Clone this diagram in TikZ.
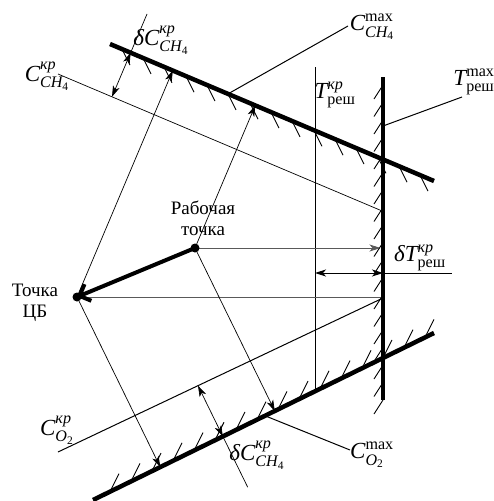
\documentclass[tikz,border=0pt]{standalone}
\usepackage{fontspec}
\usepackage{amsmath}
\setmainfont{Liberation Serif}
\usetikzlibrary{calc,arrows.meta}
\tikzset{
  thickln/.style={line width=4.5pt},
  thinln/.style={line width=0.7pt},
  gthin/.style={line width=0.8pt, draw=black!65},
  leader/.style={line width=1pt},
  hatchln/.style={line width=0.9pt},
  lbl/.style={font=\fontsize{23}{25}\selectfont, inner sep=0pt},
  txt/.style={font=\fontsize{19}{21}\selectfont, align=center, inner sep=0pt},
  arr/.style={-{Stealth[length=11pt,width=7pt,inset=3pt]}},
  darr/.style={{Stealth[length=11pt,width=7pt,inset=3pt]}-{Stealth[length=11pt,width=7pt,inset=3pt]}},
}
\begin{document}
\begin{tikzpicture}[x=1pt,y=-1pt]
\useasboundingbox (0,0) rectangle (494,501);
% main limit lines
\coordinate (A1) at (110,44);   \coordinate (A2) at (434,181);
\coordinate (V1) at (383,77);   \coordinate (V2) at (383,400);
\coordinate (B1) at (93,500);   \coordinate (B2) at (434,333);
% critical lines
\coordinate (K1a) at (58,74);   \coordinate (K1b) at (381,210.5);
\coordinate (K2a) at (58,452);  \coordinate (K2b) at (383,298);
\coordinate (TKa) at (315,67);  \coordinate (TKb) at (315,391.3);
% points
\coordinate (W) at (195,248);
\coordinate (Z) at (77,297);
\coordinate (WV) at (380.5,248);
\coordinate (ZV) at (383,297);
% projections
\coordinate (ZU) at ($(A1)!(Z)!(A2)$);
\coordinate (WU) at ($(A1)!(W)!(A2)$);
\coordinate (ZL) at ($(B1)!(Z)!(B2)$);
\coordinate (WL) at ($(B1)!(W)!(B2)$);
% delta C upper
\coordinate (P0) at ($(K1a)!{(112-58)/323}!(K1b)$);
\coordinate (PU) at ($(A1)!(P0)!(A2)$);
\coordinate (PE) at ($(PU)!-0.88!(P0)$);
% delta C lower
\coordinate (Q0) at ($(K2a)!{(198-58)/325}!(K2b)$);
\coordinate (QL) at ($(B1)!(Q0)!(B2)$);
\coordinate (QE) at ($(QL)!-1.0!(Q0)$);
% delta T
\coordinate (DT1) at (315,273); \coordinate (DT2) at (383,273); \coordinate (DT3) at (452,273);
% leaders
\coordinate (LU) at ($(A1)!{(228-110)/324}!(A2)$); \coordinate (LUe) at (348,26);
\coordinate (LV) at (383,126); \coordinate (LVe) at (462,97);
\coordinate (LL) at ($(B1)!{(265-93)/341}!(B2)$); \coordinate (LLe) at (350,450);

% thin lines
\draw[thinln] (K1a) -- (K1b);
\draw[leader] (K2a) -- (K2b);
\draw[leader] (TKa) -- (TKb);
\draw[gthin] (Z) -- (ZV);
\draw[gthin,arr] (W) -- (WV);
\draw[thinln,arr] (Z) -- (ZU);
\draw[thinln,arr] (W) -- (WU);
\draw[thinln,arr] (Z) -- (ZL);
\draw[thinln,arr] (W) -- (WL);
\draw[thinln,darr] (P0) -- (PU);
\draw[thinln] (PU) -- (PE);
\draw[thinln,darr] (Q0) -- (QL);
\draw[thinln] (QL) -- (QE);
\draw[leader,darr] (DT1) -- (DT2);
\draw[leader] (DT2) -- (DT3);
\draw[leader] (LU) -- (LUe);
\draw[leader] (LV) -- (LVe);
\draw[leader] (LL) -- (LLe);

% hatching
\foreach \x in {122,143,164,186,207,228,250,271,292,314,335,356,378,399,420}
  \draw[hatchln] ($(A1)!{(\x-110)/324}!(A2)$) -- ++(8,16);
\foreach \y in {85,102.5,...,400}
  \draw[hatchln] (383,\y) -- ++(-9,14);
\foreach \x in {110,131,152,173,194,215,236,257,278,299,320,341,362,383,404,425}
  \draw[hatchln] ($(B1)!{(\x-93)/341}!(B2)$) -- ++(9,-18);

% thick limit lines
\draw[thickln] (A1) -- (A2);
\draw[thickln] (V1) -- (V2);
\draw[thickln] (B1) -- (B2);

% working point -> CB
\draw[line width=4pt,-{Straight Barb[length=9pt,width=18pt]}] (W) -- (Z);
\fill (W) circle (4.5);
\fill (Z) circle (4.5);

% labels
\node[lbl] (l1) at (161,40) {$\textit{δC}^{\textit{кр}}_{\textit{CH}_{\text{4}}}$};
\node[lbl] (l2) at (47,76) {$\textit{C}^{\textit{кр}}_{\textit{CH}_{\text{4}}}$};
\node[lbl] (l3) at (372,27) {$\textit{C}^{\text{max}}_{\textit{CH}_{\text{4}}}$};
\node[lbl] (l4) at (335,95) {$\textit{T}^{\textit{кр}}_{\text{реш}}$};
\node[lbl] (l5) at (474,82) {$\textit{T}^{\text{max}}_{\text{реш}}$};
\node[lbl] (l6) at (420,258) {$\textit{δT}^{\textit{кр}}_{\text{реш}}$};
\node[lbl] (l7) at (57,430) {$\textit{C}^{\textit{кр}}_{\textit{O}_{\text{2}}}$};
\node[lbl] (l8) at (257,455) {$\textit{δC}^{\textit{кр}}_{\textit{CH}_{\text{4}}}$};
\node[lbl] (l9) at (372,455) {$\textit{C}^{\text{max}}_{\textit{O}_{\text{2}}}$};
\node[txt] (t1) at (203,218) {Рабочая\\точка};
\node[txt] (t2) at (35,303) {Точка\\ЦБ};
\end{tikzpicture}
\end{document}
